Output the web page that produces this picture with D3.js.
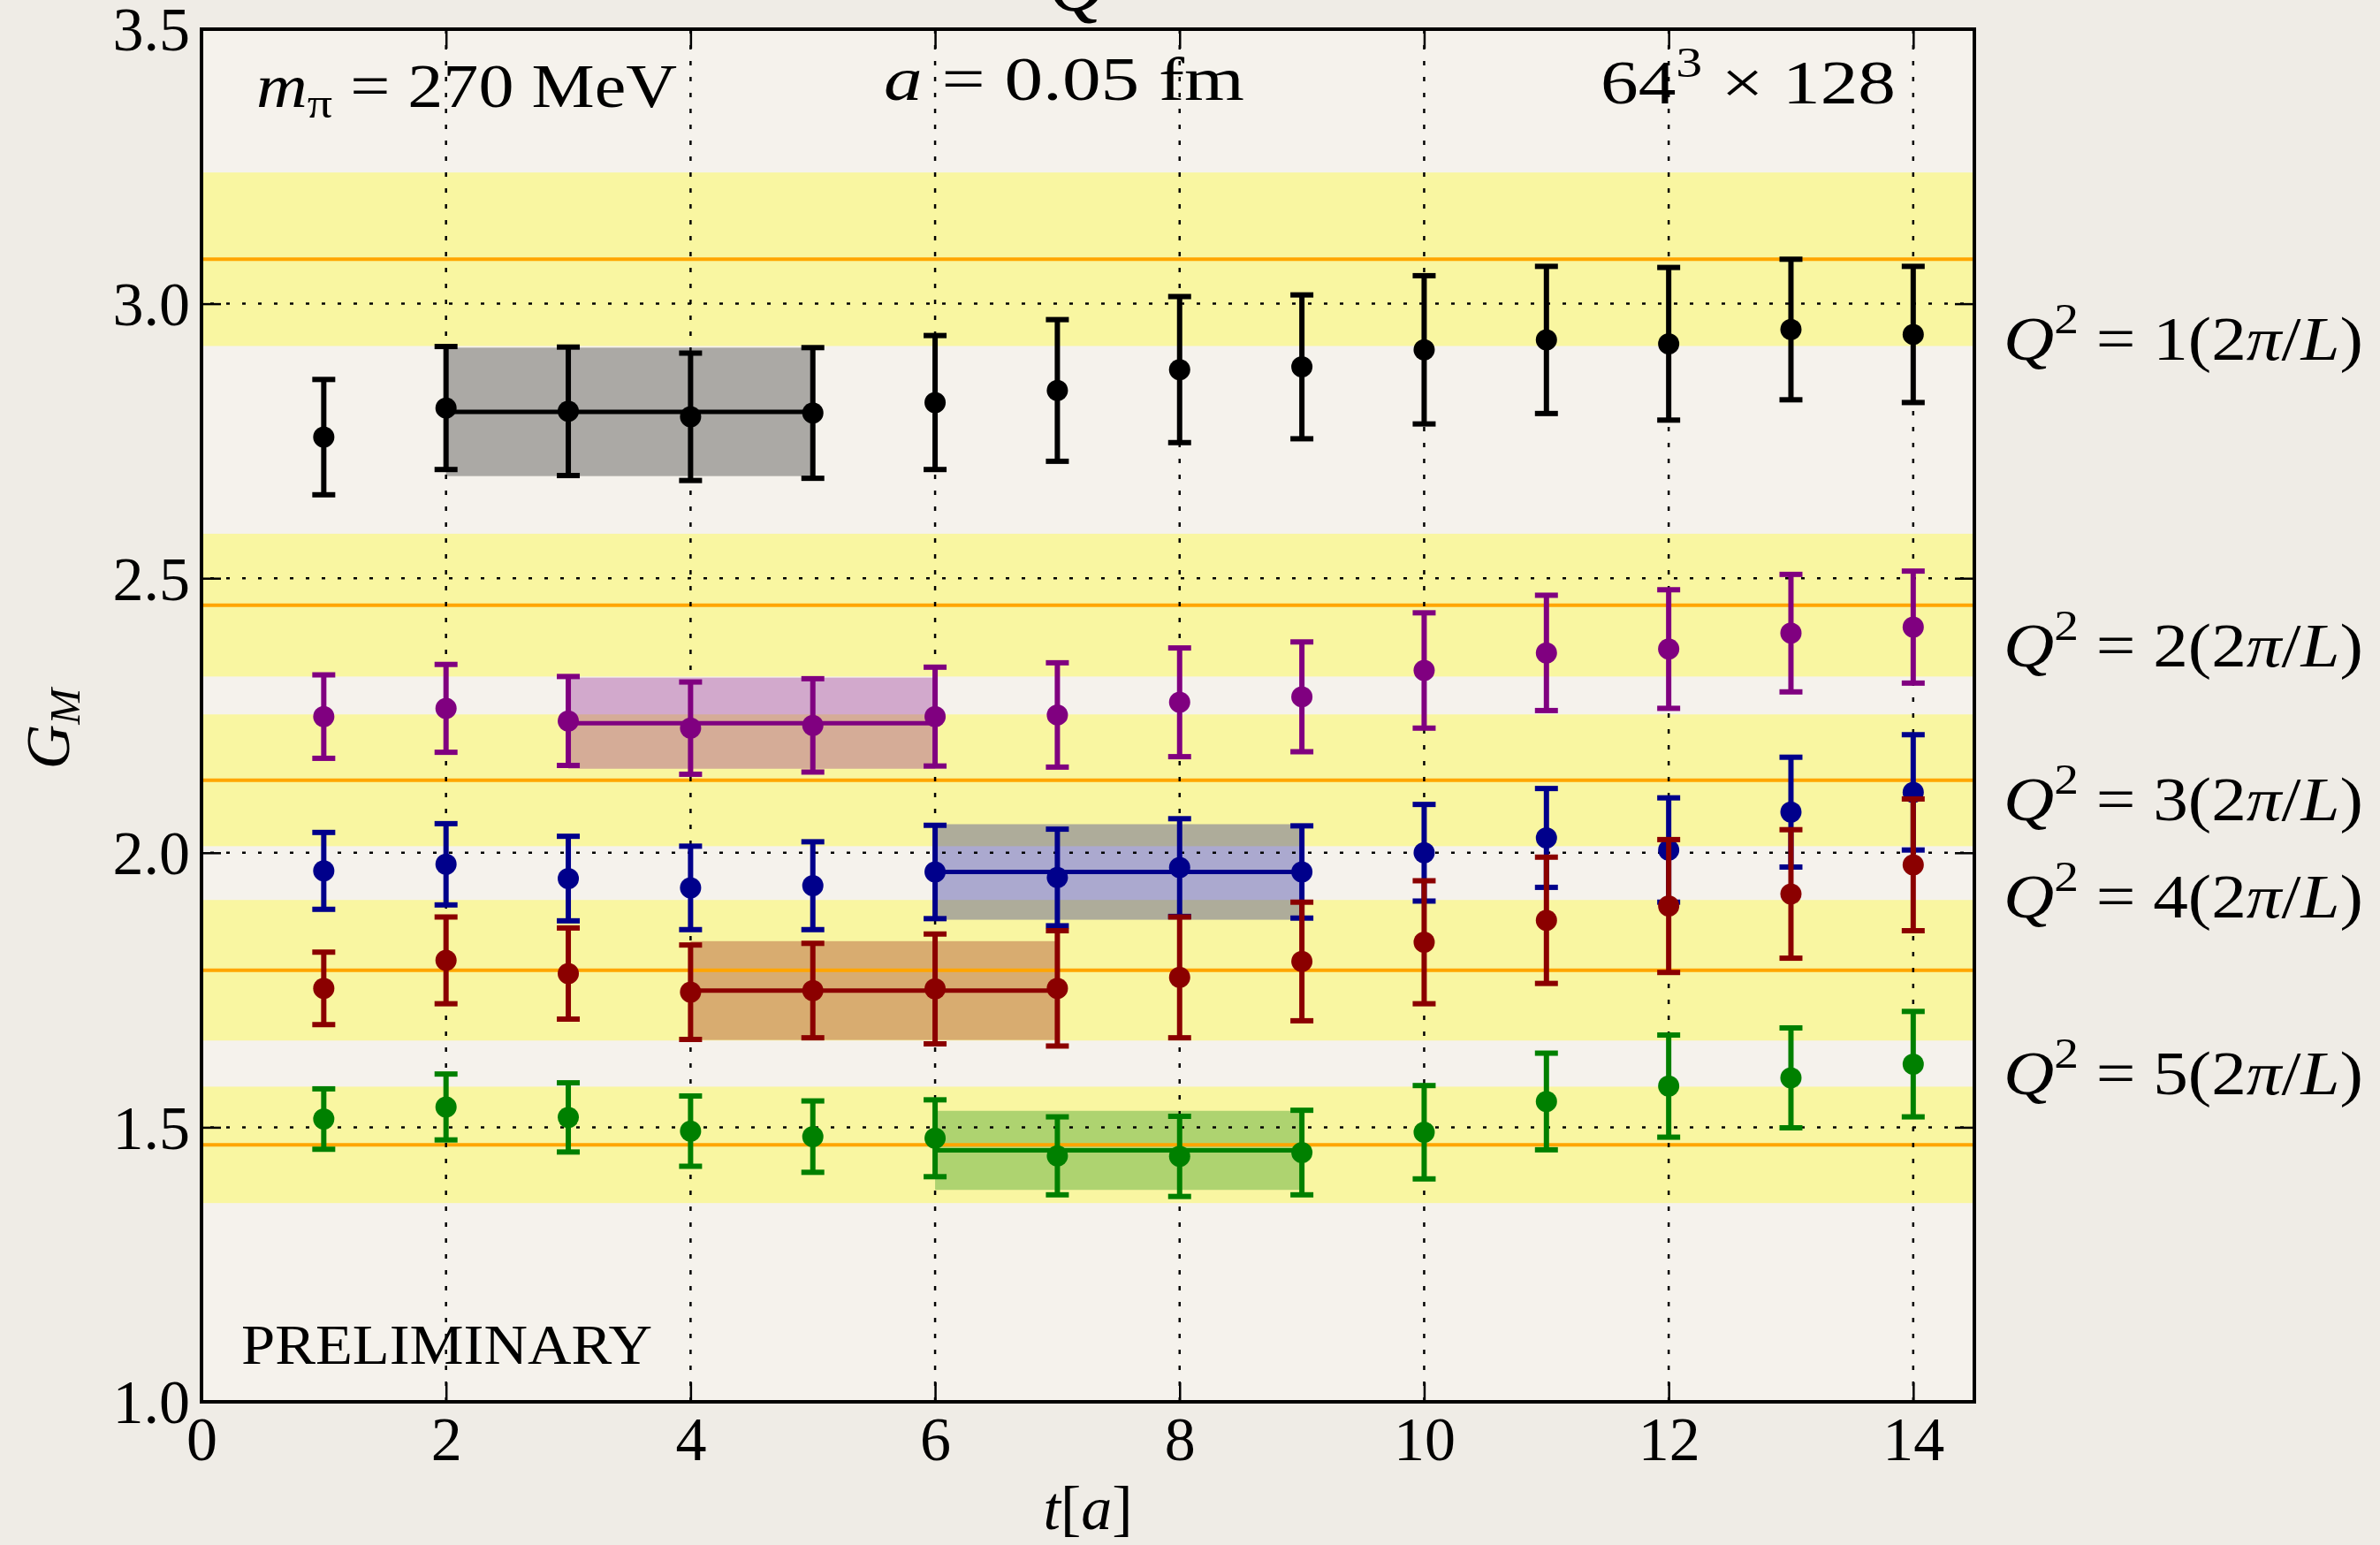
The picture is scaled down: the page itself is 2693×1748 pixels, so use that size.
<!DOCTYPE html>
<html>
<head>
<meta charset="utf-8">
<script src="https://cdn.jsdelivr.net/npm/d3@7"></script>
<style>
  html, body { margin: 0; padding: 0; background: #efece6; }
  svg { display: block; }
  text { font-family: "Liberation Serif", "DejaVu Serif", serif; fill: #000; }
</style>
</head>
<body>
<svg id="chart" width="2693" height="1748"></svg>
<script>
// Time slices (lattice units)
const tSlices = [1, 2, 3, 4, 5, 6, 7, 8, 9, 10, 11, 12, 13, 14];

// G_M effective values and errors, one pair of arrays per momentum transfer
const q1Mean = [2.757, 2.810, 2.804, 2.794, 2.801, 2.820, 2.842, 2.880, 2.885, 2.916, 2.934, 2.927, 2.953, 2.944];
const q1Err  = [0.105, 0.112, 0.117, 0.116, 0.119, 0.122, 0.129, 0.133, 0.131, 0.135, 0.134, 0.139, 0.128, 0.124];
const q2Mean = [2.248, 2.263, 2.240, 2.227, 2.232, 2.248, 2.251, 2.274, 2.284, 2.332, 2.364, 2.371, 2.400, 2.411];
const q2Err  = [0.076, 0.080, 0.081, 0.084, 0.085, 0.090, 0.095, 0.099, 0.100, 0.105, 0.105, 0.108, 0.107, 0.102];
const q3Mean = [1.967, 1.979, 1.953, 1.936, 1.940, 1.965, 1.955, 1.973, 1.965, 2.000, 2.027, 2.005, 2.074, 2.110];
const q3Err  = [0.070, 0.074, 0.077, 0.076, 0.080, 0.085, 0.088, 0.089, 0.084, 0.088, 0.090, 0.095, 0.100, 0.105];
const q4Mean = [1.753, 1.804, 1.780, 1.746, 1.749, 1.752, 1.753, 1.773, 1.802, 1.837, 1.877, 1.903, 1.925, 1.978];
const q4Err  = [0.066, 0.079, 0.083, 0.086, 0.086, 0.100, 0.105, 0.110, 0.108, 0.112, 0.115, 0.121, 0.117, 0.120];
const q5Mean = [1.515, 1.537, 1.518, 1.493, 1.483, 1.480, 1.448, 1.447, 1.454, 1.491, 1.547, 1.575, 1.590, 1.615];
const q5Err  = [0.055, 0.060, 0.063, 0.064, 0.065, 0.070, 0.071, 0.073, 0.077, 0.085, 0.088, 0.093, 0.091, 0.096];

// Plateau fits: range in t and fitted value with error
const fitStart = [2, 3, 6, 4, 6];
const fitEnd   = [5, 6, 9, 7, 9];
const fitMean  = [2.803, 2.236, 1.965, 1.749, 1.458];
const fitErr   = [0.117, 0.083, 0.087, 0.090, 0.072];

// Reference values (orange lines) with their uncertainty bands
const refMean = [3.081, 2.451, 2.132, 1.786, 1.468];
const refErr  = [0.158, 0.130, 0.120, 0.128, 0.106];

// Momentum labels on the right and their vertical anchor (in G_M units)
const qIndex  = ["1", "2", "3", "4", "5"];
const labelAt = [2.933, 2.374, 2.094, 1.917, 1.596];

const seriesColors = ["#000000", "#800080", "#00008b", "#8b0000", "#008000"];

// Axis ticks
const xTicks = [0, 2, 4, 6, 8, 10, 12, 14];
const yTicks = [1.0, 1.5, 2.0, 2.5, 3.0, 3.5];

const means = [q1Mean, q2Mean, q3Mean, q4Mean, q5Mean];
const errs  = [q1Err, q2Err, q3Err, q4Err, q5Err];
const series = means.map((m, i) => ({
  color: seriesColors[i],
  points: tSlices.map((t, j) => ({ t, v: m[j], e: errs[i][j] }))
}));

const L = 228, R = 2234, T = 33, B = 1586;
const x = d3.scaleLinear().domain([0, 14.5]).range([L, R]);
const y = d3.scaleLinear().domain([1.0, 3.5]).range([B, T]);

const svg = d3.select("#chart");
const FS = 70;

// plot face
svg.append("rect").attr("x", L).attr("y", T).attr("width", R - L).attr("height", B - T)
  .attr("fill", "#f5f2ec");

const plot = svg.append("g");

// uncertainty bands of the reference values
plot.selectAll("rect.band").data(refMean).join("rect").attr("class", "band")
  .attr("x", L).attr("width", R - L)
  .attr("y", (d, i) => y(d + refErr[i]))
  .attr("height", (d, i) => y(d - refErr[i]) - y(d + refErr[i]))
  .attr("fill", "#f9f6a1");

// plateau fit boxes
plot.selectAll("rect.fit").data(fitMean).join("rect").attr("class", "fit")
  .attr("x", (d, i) => x(fitStart[i]))
  .attr("width", (d, i) => x(fitEnd[i]) - x(fitStart[i]))
  .attr("y", (d, i) => y(d + fitErr[i]))
  .attr("height", (d, i) => y(d - fitErr[i]) - y(d + fitErr[i]))
  .attr("fill", (d, i) => seriesColors[i]).attr("fill-opacity", 0.3);

// reference lines
plot.selectAll("line.ref").data(refMean).join("line").attr("class", "ref")
  .attr("x1", L).attr("x2", R)
  .attr("y1", d => y(d)).attr("y2", d => y(d))
  .attr("stroke", "#ffa500").attr("stroke-width", 4);

// dotted grid
const grid = svg.append("g").attr("stroke", "#000").attr("stroke-width", 2.5);
grid.selectAll("line.gx").data(xTicks.filter(d => d > 0)).join("line")
  .attr("x1", d => x(d)).attr("x2", d => x(d)).attr("y1", T).attr("y2", B)
  .attr("stroke-dasharray", "5,13");
grid.selectAll("line.gy").data(yTicks.filter(d => d > 1.0 && d < 3.5)).join("line")
  .attr("x1", L).attr("x2", R).attr("y1", d => y(d)).attr("y2", d => y(d))
  .attr("stroke-dasharray", "4,14").attr("stroke-dashoffset", -10);

// plateau fit central lines
plot.append("g").selectAll("line").data(fitMean).join("line")
  .attr("x1", (d, i) => x(fitStart[i])).attr("x2", (d, i) => x(fitEnd[i]))
  .attr("y1", d => y(d)).attr("y2", d => y(d))
  .attr("stroke", (d, i) => seriesColors[i]).attr("stroke-width", 5);

// error bars and markers
const sg = svg.append("g").selectAll("g").data(series).join("g")
  .attr("stroke", d => d.color).attr("fill", d => d.color);
sg.selectAll("line.bar").data(d => d.points).join("line").attr("class", "bar")
  .attr("x1", d => x(d.t)).attr("x2", d => x(d.t))
  .attr("y1", d => y(d.v + d.e)).attr("y2", d => y(d.v - d.e))
  .attr("stroke-width", 6);
sg.selectAll("line.capTop").data(d => d.points).join("line").attr("class", "capTop")
  .attr("x1", d => x(d.t) - 13).attr("x2", d => x(d.t) + 13)
  .attr("y1", d => y(d.v + d.e)).attr("y2", d => y(d.v + d.e))
  .attr("stroke-width", 6);
sg.selectAll("line.capBot").data(d => d.points).join("line").attr("class", "capBot")
  .attr("x1", d => x(d.t) - 13).attr("x2", d => x(d.t) + 13)
  .attr("y1", d => y(d.v - d.e)).attr("y2", d => y(d.v - d.e))
  .attr("stroke-width", 6);
sg.selectAll("circle").data(d => d.points).join("circle")
  .attr("cx", d => x(d.t)).attr("cy", d => y(d.v)).attr("r", 12).attr("stroke", "none");

// frame
svg.append("rect").attr("x", L).attr("y", T).attr("width", R - L).attr("height", B - T)
  .attr("fill", "none").attr("stroke", "#000").attr("stroke-width", 4);

// axes: inward ticks on all four sides
const tickLen = 22;
const xb = svg.append("g").attr("transform", `translate(0,${B})`)
  .call(d3.axisBottom(x).tickValues(xTicks).tickSizeInner(-tickLen).tickSizeOuter(0).tickPadding(tickLen + 44).tickFormat(d3.format("d")));
const xt = svg.append("g").attr("transform", `translate(0,${T})`)
  .call(d3.axisTop(x).tickValues(xTicks).tickSizeInner(-tickLen).tickSizeOuter(0).tickFormat(""));
const yl = svg.append("g").attr("transform", `translate(${L},0)`)
  .call(d3.axisLeft(y).tickValues(yTicks).tickSizeInner(-tickLen).tickSizeOuter(0).tickPadding(13).tickFormat(d3.format(".1f")));
const yr = svg.append("g").attr("transform", `translate(${R},0)`)
  .call(d3.axisRight(y).tickValues(yTicks).tickSizeInner(-tickLen).tickSizeOuter(0).tickFormat(""));
[xb, xt, yl, yr].forEach(a => {
  a.select(".domain").remove();
  a.selectAll(".tick line").attr("stroke", "#000").attr("stroke-width", 2.5);
  a.selectAll(".tick text").attr("font-family", "Liberation Serif").attr("font-size", FS).attr("fill", "#000");
});
xb.selectAll(".tick text").attr("dy", "0");
yl.selectAll(".tick text").attr("dy", "0.34em");

// axis titles
svg.append("text").attr("x", (L + R) / 2).attr("y", 1730).attr("text-anchor", "middle")
  .attr("font-size", FS)
  .call(t => {
    t.append("tspan").attr("font-style", "italic").text("t");
    t.append("tspan").text("[");
    t.append("tspan").attr("font-style", "italic").text("a");
    t.append("tspan").text("]");
  });
svg.append("text").attr("transform", `translate(78,${(T + B) / 2 + 15}) rotate(-90)`)
  .attr("text-anchor", "middle").attr("font-size", FS)
  .call(t => {
    t.append("tspan").attr("font-style", "italic").text("G");
    t.append("tspan").attr("font-style", "italic").attr("font-size", FS * 0.7).attr("dy", 12).text("M");
  });

// title (runs off the top edge)
svg.append("text").attr("x", 1186).attr("y", 12).attr("font-size", 90).attr("font-style", "italic").text("Q");

// ensemble annotations
svg.append("text").attr("x", 290).attr("y", 121).attr("font-size", FS)
  .attr("textLength", 476).attr("lengthAdjust", "spacingAndGlyphs")
  .call(t => {
    t.append("tspan").attr("font-style", "italic").text("m");
    t.append("tspan").attr("font-size", FS * 0.7).attr("dy", 12).text("π");
    t.append("tspan").attr("dy", -12).text(" = 270 MeV");
  });
svg.append("text").attr("x", 1000).attr("y", 113).attr("font-size", FS)
  .attr("textLength", 408).attr("lengthAdjust", "spacingAndGlyphs")
  .call(t => {
    t.append("tspan").attr("font-style", "italic").text("a");
    t.append("tspan").text(" = 0.05 fm");
  });
svg.append("text").attr("x", 1811).attr("y", 117).attr("font-size", FS)
  .attr("textLength", 334).attr("lengthAdjust", "spacingAndGlyphs")
  .call(t => {
    t.append("tspan").text("64");
    t.append("tspan").attr("font-size", FS * 0.7).attr("dy", -30).text("3");
    t.append("tspan").attr("dy", 30).text(" × 128");
  });

svg.append("text").attr("x", 273).attr("y", 1543).attr("font-family", "Liberation Mono")
  .attr("font-size", 64).attr("textLength", 465).attr("lengthAdjust", "spacingAndGlyphs")
  .text("PRELIMINARY");

// momentum labels
svg.selectAll("text.qlab").data(qIndex).join("text").attr("class", "qlab")
  .attr("x", 2267).attr("y", (d, i) => y(labelAt[i]) + 22).attr("font-size", FS)
  .attr("textLength", 407).attr("lengthAdjust", "spacingAndGlyphs")
  .each(function (d) {
    const t = d3.select(this);
    t.append("tspan").attr("font-style", "italic").text("Q");
    t.append("tspan").attr("font-size", FS * 0.7).attr("dy", -30).text("2");
    t.append("tspan").attr("dy", 30).text(" = " + d + "(2");
    t.append("tspan").attr("font-style", "italic").text("π");
    t.append("tspan").text("/");
    t.append("tspan").attr("font-style", "italic").text("L");
    t.append("tspan").text(")");
  });
</script>
</body>
</html>
